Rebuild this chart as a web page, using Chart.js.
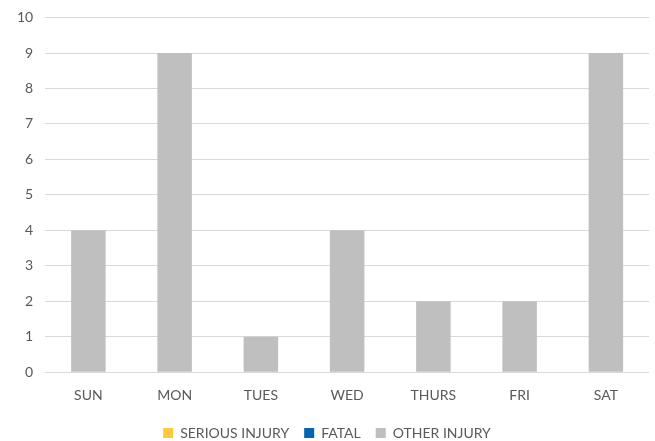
<!DOCTYPE html>
<html>
<head>
<meta charset="utf-8">
<script src="https://cdn.jsdelivr.net/npm/chart.js@4"></script>
<style>
  html, body { margin: 0; padding: 0; background: #fff; }
  #wrap { width: 655px; height: 441px; }
</style>
</head>
<body>
<div id="wrap"><canvas id="InjuryChart"></canvas></div>
<script>
const days = ['SUN', 'MON', 'TUES', 'WED', 'THURS', 'FRI', 'SAT'];
const serious = [0, 0, 0, 0, 0, 0, 0];
const fatal = [0, 0, 0, 0, 0, 0, 0];
const other = [4, 9, 1, 4, 2, 2, 9];

Chart.defaults.font.family = 'Lato, "Open Sans", sans-serif';
Chart.defaults.font.size = 14;
Chart.defaults.color = '#595959';

new Chart(document.getElementById('InjuryChart'), {
	type: 'bar',
	data: {
		labels: days,
		datasets: [
			{ label: 'SERIOUS INJURY', data: serious, backgroundColor: '#FFC93C' },
			{ label: 'FATAL', data: fatal, backgroundColor: '#0565AE' },
			{ label: 'OTHER INJURY', data: other, backgroundColor: '#BFBFBF' }
		]
	},
	options: {
		responsive: true,
		maintainAspectRatio: false,
		animation: false,
		layout: { padding: { left: 5, right: 6, top: 0, bottom: -9 } },
		datasets: {
			bar: { categoryPercentage: 1, barPercentage: 0.4 }
		},
		scales: {
			x: {
				stacked: true,
				grid: { display: false },
				border: { display: false },
				ticks: { padding: 7 }
			},
			y: {
				stacked: true,
				min: 0,
				max: 10,
				ticks: { stepSize: 1, padding: 12, font: { lineHeight: 0.8 } },
				grid: { color: '#D9D9D9', lineWidth: 1, drawTicks: false },
				border: { display: false }
			}
		},
		plugins: {
			legend: {
				position: 'bottom',
				labels: { boxWidth: 10, boxHeight: 10, padding: 15 }
			},
			tooltip: { enabled: false }
		}
	}
});
</script>
</body>
</html>
